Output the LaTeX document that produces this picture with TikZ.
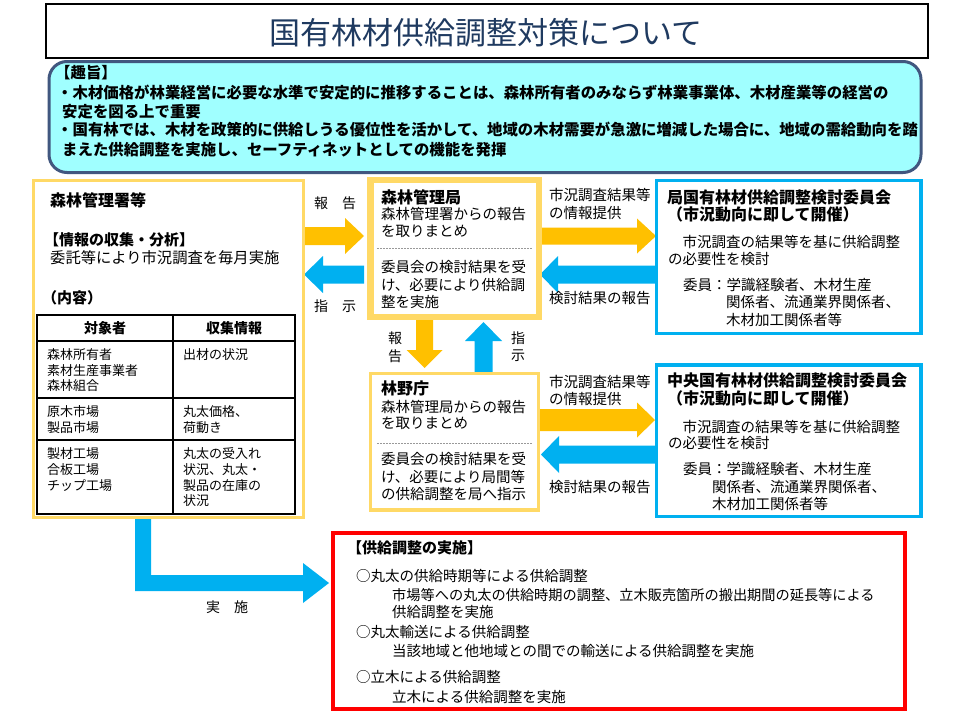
\documentclass[tikz,border=0pt]{standalone}
\usepackage{fontspec}
\setmainfont{Noto Sans CJK JP}
\definecolor{ylw}{HTML}{FFD966}
\definecolor{ylwarrow}{HTML}{FFC000}
\definecolor{blu}{HTML}{00B0F0}
\definecolor{cyanfill}{HTML}{A0FFFF}
\definecolor{sumborder}{HTML}{41577F}
\definecolor{titlecol}{HTML}{1F3A60}
\definecolor{redbox}{HTML}{FF0000}
\newcommand\fs[1]{\fontsize{#1}{#1}\selectfont}
% horizontal block arrow: colour, x tail, x head base, x tip, y centre, body half, head half
\newcommand\harrow[7]{\fill[#1] (#2,{#5-#6}) -- (#3,{#5-#6}) -- (#3,{#5-#7}) -- (#4,#5) -- (#3,{#5+#7}) -- (#3,{#5+#6}) -- (#2,{#5+#6}) -- cycle;}
% vertical block arrow: colour, y tail, y head base, y tip, x centre, body half, head half
\newcommand\varrow[7]{\fill[#1] ({#5-#6},#2) -- ({#5-#6},#3) -- ({#5-#7},#3) -- (#5,#4) -- ({#5+#7},#3) -- ({#5+#6},#3) -- ({#5+#6},#2) -- cycle;}
\begin{document}
\begin{tikzpicture}[x=1pt,y=-1pt,
  t/.style={anchor=west,inner sep=0pt,font=\fs{14.5}},
  ts/.style={anchor=west,inner sep=0pt,font=\fs{15.4}\bfseries},
  tb/.style={anchor=west,inner sep=0pt,font=\fs{16}\bfseries},
  tbs/.style={anchor=west,inner sep=0pt,font=\fs{15}\bfseries},
  tt/.style={anchor=west,inner sep=0pt,font=\fs{13}},
  th/.style={inner sep=0pt,font=\fs{14}\bfseries},
  lab/.style={inner sep=0pt,font=\fs{14}},
  ybox/.style={draw=ylw,fill=white,inner sep=0pt},
  bbox/.style={draw=blu,fill=white,inner sep=0pt,line width=3.5pt},
  divider/.style={draw=gray!80,line width=0.8pt,dash pattern=on 2pt off 1pt}]
\useasboundingbox (0,0) rectangle (960,720);
\fill[white] (0,0) rectangle (960,720);

% title
\node[draw=black,line width=2.5pt,minimum width=882pt,minimum height=54pt,inner sep=0pt] (title) at (487,31) {};
\node[inner sep=0pt,text=titlecol,font=\fs{31}] (titletext) at (486,33) {国有林材供給調整対策について};

% summary
\node[draw=sumborder,line width=3pt,fill=cyanfill,rounded corners=18pt,minimum width=872pt,minimum height=111pt,inner sep=0pt] (summary) at (485,117) {};
\node[ts] (s0) at (55,73) {【趣旨】};
\node[ts] (s1) at (57,93) {・木材価格が林業経営に必要な水準で安定的に推移することは、森林所有者のみならず林業事業体、木材産業等の経営の};
\node[ts] (s2) at (62,112) {安定を図る上で重要};
\node[ts] (s3) at (57,130) {・国有林では、木材を政策的に供給しうる優位性を活かして、地域の木材需要が急激に増減した場合に、地域の需給動向を踏};
\node[ts] (s4) at (62,150) {まえた供給調整を実施し、セーフティネットとしての機能を発揮};

% arrows
\harrow{ylwarrow}{304}{345}{364}{236}{9}{18}
\harrow{blu}{364}{323}{304}{274.5}{9}{18.5}
\harrow{ylwarrow}{540}{637}{656}{236}{8.5}{17.5}
\harrow{blu}{656}{558}{540}{274.5}{9}{18.5}
\harrow{ylwarrow}{540}{637}{655}{420}{11}{17.5}
\harrow{blu}{656}{559}{541}{454.5}{9}{18.5}
\varrow{ylwarrow}{320}{350}{368}{424.5}{8.5}{18}
\varrow{blu}{372}{341}{322}{483.5}{9}{18.5}
\fill[blu] (135,519) -- (151,519) -- (151,575) -- (303,575) -- (303,563) -- (329,583) -- (303,603) -- (303,591) -- (135,591) -- cycle;

% left box
\node[ybox,line width=3pt,minimum width=270pt,minimum height=337pt] (sho) at (168.5,349) {};
\node[tb] (shot) at (50,200) {森林管理署等};
\node[tbs] (info) at (44,240) {【情報の収集・分析】};
\node[t,font=\fs{15.3}] (info2) at (50,258) {委託等により市況調査を毎月実施};
\node[tbs] (naiyo) at (42,298) {（内容）};
\draw[line width=1.3pt] (37,315) rectangle (295,514);
\draw[line width=1.3pt] (173,315) -- (173,514);
\draw[line width=1.3pt] (37,341) -- (295,341);
\draw[line width=1.3pt] (37,398) -- (295,398);
\draw[line width=1.3pt] (37,440) -- (295,440);
\node[th] (h1) at (105,328) {対象者};
\node[th] (h2) at (234,328) {収集情報};
\node[tt] at (47,355) {森林所有者};
\node[tt] at (47,371) {素材生産事業者};
\node[tt] at (47,386) {森林組合};
\node[tt] at (183,355) {出材の状況};
\node[tt] at (47,412) {原木市場};
\node[tt] at (47,428) {製品市場};
\node[tt] at (183,412) {丸太価格、};
\node[tt] at (183,428) {荷動き};
\node[tt] at (47,454) {製材工場};
\node[tt] at (47,470) {合板工場};
\node[tt] at (47,486) {チップ工場};
\node[tt] at (183,454) {丸太の受入れ};
\node[tt] at (183,470) {状況、丸太・};
\node[tt] at (183,486) {製品の在庫の};
\node[tt] at (183,501) {状況};

% labels left arrows
\node[lab] (hokoku1) at (335,203) {報　告};
\node[lab] (shiji1) at (335,306) {指　示};

% middle top box
\node[ybox,line width=6.5pt,minimum width=168.5pt,minimum height=137pt] (kyoku) at (454.75,248.5) {};
\node[tb] at (381,197) {森林管理局};
\node[t] at (381,214) {森林管理署からの報告};
\node[t] at (381,231) {を取りまとめ};
\draw[divider] (377,248) -- (532,248);
\node[t] at (381,267) {委員会の検討結果を受};
\node[t] at (381,285) {け、必要により供給調};
\node[t] at (381,302) {整を実施};

% vertical labels
\node[lab] at (395,338) {報};
\node[lab] at (395,356) {告};
\node[lab] at (518,338) {指};
\node[lab] at (518,356) {示};

% middle bottom box
\node[ybox,line width=3.5pt,minimum width=168pt,minimum height=136.5pt] (rinya) at (454.5,441.75) {};
\node[tb] at (381,388) {林野庁};
\node[t] at (381,407) {森林管理局からの報告};
\node[t] at (381,423) {を取りまとめ};
\draw[divider] (377,443) -- (532,443);
\node[t] at (381,459) {委員会の検討結果を受};
\node[t] at (381,477) {け、必要により局間等};
\node[t] at (381,494) {の供給調整を局へ指示};

% labels right arrows
\node[t] at (549,195) {市況調査結果等};
\node[t] at (549,213) {の情報提供};
\node[t] at (549,298) {検討結果の報告};
\node[t] at (549,382) {市況調査結果等};
\node[t] at (549,399) {の情報提供};
\node[t] at (549,487) {検討結果の報告};

% right top box
\node[bbox,minimum width=264.5pt,minimum height=153pt] (kyokuiin) at (788.75,257) {};
\node[tb] at (667,197) {局国有林材供給調整検討委員会};
\node[tb] at (667,214) {（市況動向に即して開催）};
\node[t] at (668,242) {　市況調査の結果等を基に供給調整};
\node[t] at (668,259) {の必要性を検討};
\node[t] at (683,285) {委員：学識経験者、木材生産};
\node[t] at (726,302) {関係者、流通業界関係者、};
\node[t] at (726,320) {木材加工関係者等};

% right bottom box
\node[bbox,minimum width=264.5pt,minimum height=151.5pt] (chuo) at (788.75,440.75) {};
\node[tb] at (667,380) {中央国有林材供給調整検討委員会};
\node[tb] at (667,398) {（市況動向に即して開催）};
\node[t] at (668,427) {　市況調査の結果等を基に供給調整};
\node[t] at (668,443) {の必要性を検討};
\node[t] at (683,469) {委員：学識経験者、木材生産};
\node[t] at (712,487) {関係者、流通業界関係者、};
\node[t] at (712,504) {木材加工関係者等};

% bottom label
\node[lab] (jisshilab) at (227,607) {実　施};

% red box
\node[draw=redbox,line width=3.5pt,fill=white,minimum width=572pt,minimum height=176pt,inner sep=0pt] (jisshi) at (619,621) {};
\node[tbs] at (347,548) {【供給調整の実施】};
\node[t] at (356,576) {○丸太の供給時期等による供給調整};
\node[t,font=\fs{14.2}] at (392,595) {市場等への丸太の供給時期の調整、立木販売箇所の搬出期間の延長等による};
\node[t] at (392,612) {供給調整を実施};
\node[t] at (356,632) {○丸太輸送による供給調整};
\node[t] at (392,651) {当該地域と他地域との間での輸送による供給調整を実施};
\node[t] at (356,677) {○立木による供給調整};
\node[t] at (392,697) {立木による供給調整を実施};
\end{tikzpicture}
\end{document}
